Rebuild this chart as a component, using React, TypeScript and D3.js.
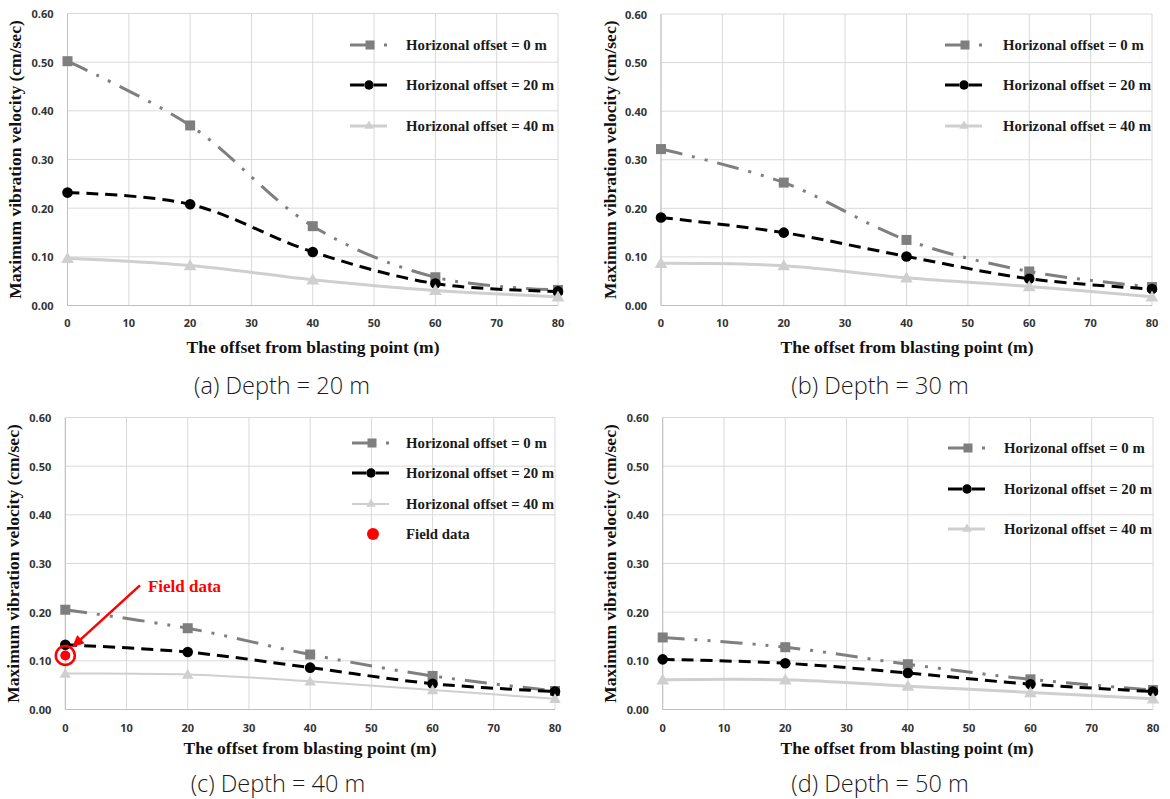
import React from "react";
import * as d3 from "d3";

// ---------- data ----------
const X_VALUES = [0, 20, 40, 60, 80];
const X_TICKS = [0, 10, 20, 30, 40, 50, 60, 70, 80];
const Y_TICKS = [0, 0.1, 0.2, 0.3, 0.4, 0.5, 0.6];
const SERIES_NAMES = [
  "Horizonal offset = 0 m",
  "Horizonal offset = 20 m",
  "Horizonal offset = 40 m",
];
const CAPTIONS = [
  "(a) Depth = 20 m",
  "(b) Depth = 30 m",
  "(c) Depth = 40 m",
  "(d) Depth = 50 m",
];
const X_TITLE = "The offset from blasting point (m)";
const Y_TITLE = "Maximum vibration velocity (cm/sec)";
const FIELD_LABEL = "Field data";

// (a) Depth = 20 m
const D20_H0 = [0.502, 0.37, 0.163, 0.058, 0.032];
const D20_H20 = [0.232, 0.208, 0.11, 0.045, 0.029];
const D20_H40 = [0.097, 0.082, 0.053, 0.031, 0.018];
// (b) Depth = 30 m
const D30_H0 = [0.322, 0.253, 0.135, 0.07, 0.038];
const D30_H20 = [0.181, 0.15, 0.101, 0.055, 0.034];
const D30_H40 = [0.087, 0.082, 0.057, 0.039, 0.018];
// (c) Depth = 40 m
const D40_H0 = [0.205, 0.167, 0.113, 0.069, 0.038];
const D40_H20 = [0.133, 0.118, 0.086, 0.053, 0.037];
const D40_H40 = [0.074, 0.072, 0.058, 0.04, 0.022];
const FIELD_X = [0];
const FIELD_Y = [0.111];
// annotation arrow for the field data (data coordinates: start -> tip)
const ARROW_X = [12.2, 1.1];
const ARROW_Y = [0.255, 0.128];
// (d) Depth = 50 m
const D50_H0 = [0.148, 0.128, 0.093, 0.062, 0.04];
const D50_H20 = [0.103, 0.095, 0.075, 0.052, 0.037];
const D50_H40 = [0.061, 0.061, 0.048, 0.035, 0.022];

const PANEL_DATA = [
  [D20_H0, D20_H20, D20_H40],
  [D30_H0, D30_H20, D30_H40],
  [D40_H0, D40_H20, D40_H40],
  [D50_H0, D50_H20, D50_H40],
];

// ---------- layout / style ----------
const LAYOUT = [
  { left: 67.5, right: 558, top: 13.5, bottom: 305.5, tickY: 322, titleX: 313, titleY: 347, capX: 282, capY: 385, yTitleX: 15, legX: 350, legTextX: 406, legRows: [45, 85, 126], w40: 3 },
  { left: 661, right: 1152, top: 14, bottom: 305.5, tickY: 322, titleX: 907, titleY: 347, capX: 880, capY: 385, yTitleX: 610, legX: 945, legTextX: 1003, legRows: [45, 85, 126], w40: 3 },
  { left: 65.3, right: 555, top: 417.5, bottom: 709.5, tickY: 727, titleX: 310, titleY: 748, capX: 278, capY: 783, yTitleX: 13, legX: 352, legTextX: 406, legRows: [443, 473, 504, 534], w40: 2 },
  { left: 662.7, right: 1153, top: 417.5, bottom: 709.5, tickY: 727, titleX: 907, titleY: 748, capX: 880, capY: 783, yTitleX: 610, legX: 948, legTextX: 1004, legRows: [448, 489, 529], w40: 3 },
];

const COLORS = ["#7f7f7f", "#000000", "#cfcfcf"];
const DASHES = ["22,10,3,10,3,10", "12,7", null];
const SERIF = "'Liberation Serif', 'Times New Roman', serif";
const SANS = "'Noto Sans', 'Open Sans', sans-serif";
const CAP_FONT = "'Open Sans', 'Noto Sans', sans-serif";

function Marker({ kind, x, y, s = 1 }: { kind: number; x: number; y: number; s?: number }) {
  if (kind === 0) {
    const h = 5 * s;
    return <rect x={x - h} y={y - h} width={2 * h} height={2 * h} fill={COLORS[0]} />;
  }
  if (kind === 1) {
    return <circle cx={x} cy={y} r={5.3 * s} fill={COLORS[1]} />;
  }
  const sym = d3.symbol(d3.symbolTriangle, 70 * s * s)();
  return <path d={sym || ""} transform={`translate(${x},${y + 1})`} fill={COLORS[2]} />;
}

function Panel({ idx }: { idx: number }) {
  const L = LAYOUT[idx];
  const data = PANEL_DATA[idx];
  const x = d3.scaleLinear().domain([0, 80]).range([L.left, L.right]);
  const y = d3.scaleLinear().domain([0, 0.6]).range([L.bottom, L.top]);
  const line = d3
    .line<number>()
    .x((_, i) => x(X_VALUES[i]))
    .y((d) => y(d))
    .curve(d3.curveCatmullRom.alpha(0.5));

  const isC = idx === 2;
  const midY = (L.top + L.bottom) / 2;

  let arrowHead = "";
  let ax0 = 0, ay0 = 0, ax1 = 0, ay1 = 0;
  if (isC) {
    const sx = x(ARROW_X[0]), sy = y(ARROW_Y[0]);
    const tx = x(ARROW_X[1]), ty = y(ARROW_Y[1]);
    const ang = Math.atan2(ty - sy, tx - sx);
    const len = 12, wid = 5.5;
    const bx = tx - len * Math.cos(ang), by = ty - len * Math.sin(ang);
    const px = -Math.sin(ang) * wid, py = Math.cos(ang) * wid;
    arrowHead = `M${tx},${ty}L${bx + px},${by + py}L${bx - px},${by - py}Z`;
    ax0 = sx; ay0 = sy; ax1 = bx + 1 * Math.cos(ang); ay1 = by + 1 * Math.sin(ang);
  }

  return (
    <g>
      {/* grid */}
      {X_TICKS.map((t) => (
        <line key={"gx" + t} x1={x(t)} x2={x(t)} y1={L.top} y2={L.bottom} stroke="#d9d9d9" strokeWidth={1} />
      ))}
      {Y_TICKS.map((t) => (
        <line key={"gy" + t} x1={L.left} x2={L.right} y1={y(t)} y2={y(t)} stroke="#d9d9d9" strokeWidth={1} />
      ))}
      {/* axis lines */}
      <line x1={L.left} x2={L.left} y1={L.top} y2={L.bottom} stroke="#bfbfbf" strokeWidth={1} />
      <line x1={L.left} x2={L.right} y1={L.bottom} y2={L.bottom} stroke="#bfbfbf" strokeWidth={1} />

      {/* tick labels */}
      {Y_TICKS.map((t) => (
        <text key={"ty" + t} x={L.left - 14} y={y(t)} textAnchor="end" dominantBaseline="central" fontFamily={SANS} fontSize={11} fontWeight={700} fill="#333">
          {d3.format(".2f")(t)}
        </text>
      ))}
      {X_TICKS.map((t) => (
        <text key={"tx" + t} x={x(t)} y={L.tickY} textAnchor="middle" dominantBaseline="central" fontFamily={SANS} fontSize={11} fontWeight={700} fill="#333">
          {t}
        </text>
      ))}

      {/* titles */}
      <text x={L.titleX} y={L.titleY} textAnchor="middle" dominantBaseline="central" fontFamily={SERIF} fontSize={17.5} fontWeight={700} fill="#111">
        {X_TITLE}
      </text>
      <text transform={`translate(${L.yTitleX},${midY}) rotate(-90)`} textAnchor="middle" dominantBaseline="central" fontFamily={SERIF} fontSize={17.5} fontWeight={700} fill="#111">
        {Y_TITLE}
      </text>
      <text x={L.capX} y={L.capY} textAnchor="middle" dominantBaseline="central" fontFamily={CAP_FONT} fontSize={23.5} fontWeight={300} fill="#1a1a1a">
        {CAPTIONS[idx]}
      </text>

      {/* series lines */}
      {data.map((vals, si) => (
        <path
          key={"l" + si}
          d={line(vals) || ""}
          fill="none"
          stroke={COLORS[si]}
          strokeWidth={si === 2 ? L.w40 : 3}
          strokeDasharray={DASHES[si] || undefined}
        />
      ))}
      {/* markers */}
      {data.map((vals, si) =>
        vals.map((v, i) => (
          <Marker key={"m" + si + "-" + i} kind={si} x={x(X_VALUES[i])} y={y(v)} s={si === 2 && isC ? 0.9 : 1} />
        ))
      )}

      {/* field data */}
      {isC &&
        FIELD_X.map((fx, i) => (
          <g key={"f" + i}>
            <circle cx={x(fx)} cy={y(FIELD_Y[i])} r={9.5} fill="none" stroke="#ff0000" strokeWidth={2.5} />
            <circle cx={x(fx)} cy={y(FIELD_Y[i])} r={5} fill="#ff0000" />
          </g>
        ))}
      {isC && (
        <g>
          <line x1={ax0} y1={ay0} x2={ax1} y2={ay1} stroke="#ff0000" strokeWidth={2.5} />
          <path d={arrowHead} fill="#ff0000" />
          <text x={x(13.5)} y={y(ARROW_Y[0]) + 1} dominantBaseline="central" fontFamily={SERIF} fontSize={17} fontWeight={700} fill="#ff0000">
            {FIELD_LABEL}
          </text>
        </g>
      )}

      {/* legend */}
      {SERIES_NAMES.map((name, si) => {
        const ry = L.legRows[si];
        return (
          <g key={"lg" + si}>
            {si === 0 ? (
              <g>
                <line x1={L.legX} x2={L.legX + 24} y1={ry} y2={ry} stroke={COLORS[0]} strokeWidth={3} />
                <rect x={L.legX + 34} y={ry - 1.5} width={3} height={3} fill={COLORS[0]} />
                <Marker kind={0} x={L.legX + 20} y={ry} s={0.9} />
              </g>
            ) : si === 1 ? (
              <g>
                <line x1={L.legX} x2={L.legX + 14} y1={ry} y2={ry} stroke={COLORS[1]} strokeWidth={3} />
                <line x1={L.legX + 24} x2={L.legX + 37} y1={ry} y2={ry} stroke={COLORS[1]} strokeWidth={3} />
                <Marker kind={1} x={L.legX + 19} y={ry} s={0.9} />
              </g>
            ) : (
              <g>
                <line x1={L.legX} x2={L.legX + 37} y1={ry} y2={ry} stroke={COLORS[2]} strokeWidth={si === 2 ? L.w40 : 3} />
                <Marker kind={2} x={L.legX + 19} y={ry - 1} s={0.75} />
              </g>
            )}
            <text x={L.legTextX} y={ry} dominantBaseline="central" fontFamily={SERIF} fontSize={14.8} fontWeight={700} fill="#1a1a1a">
              {name}
            </text>
          </g>
        );
      })}
      {isC && (
        <g>
          <circle cx={L.legX + 21} cy={L.legRows[3]} r={6} fill="#ff0000" />
          <text x={L.legTextX} y={L.legRows[3]} dominantBaseline="central" fontFamily={SERIF} fontSize={14.8} fontWeight={700} fill="#1a1a1a">
            {FIELD_LABEL}
          </text>
        </g>
      )}
    </g>
  );
}

export default function App() {
  return (
    <svg
      width={1170}
      height={799}
      viewBox="0 0 1170 799"
      style={{ position: "absolute", left: 0, top: 0, background: "#fff" }}
    >
      <rect x={0} y={0} width={1170} height={799} fill="#fff" />
      {[0, 1, 2, 3].map((i) => (
        <Panel key={i} idx={i} />
      ))}
    </svg>
  );
}
